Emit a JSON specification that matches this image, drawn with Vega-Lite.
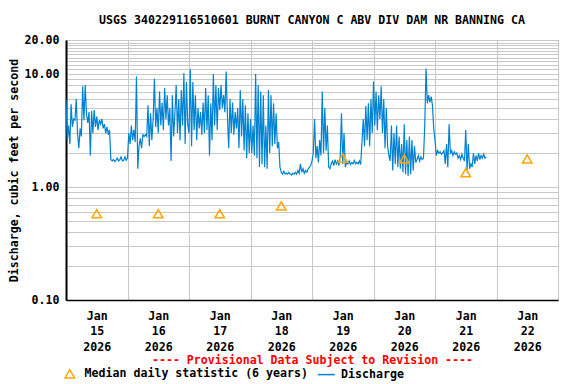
{
 "$schema": "https://vega.github.io/schema/vega-lite/v6.json",
 "width": 492, "height": 260,
 "autosize": {"type": "none"},
 "padding": {"left": 66, "top": 40, "right": 18, "bottom": 84},
 "background": "white",
 "title": {"text": "USGS 340229116510601 BURNT CANYON C ABV DIV DAM NR BANNING CA", "font": "DejaVu Sans Mono", "fontSize": 11.6, "fontWeight": "bold", "color": "black", "anchor": "middle", "offset": 7},
 "config": {"view": {"stroke": "black", "strokeWidth": 1}, "font": "DejaVu Sans Mono"},
 "datasets": {
  "median": [
   {"t": "2026-01-15T12:00", "q": 0.58}, {"t": "2026-01-16T12:00", "q": 0.58}, {"t": "2026-01-17T12:00", "q": 0.58}, {"t": "2026-01-18T12:00", "q": 0.68},
   {"t": "2026-01-19T12:00", "q": 1.8}, {"t": "2026-01-20T12:00", "q": 1.77}, {"t": "2026-01-21T12:00", "q": 1.34}, {"t": "2026-01-22T12:00", "q": 1.77}
  ],
  "discharge": [
   {"t":"2026-01-15T00:00","q":6.0},{"t":"2026-01-15T00:30","q":2.6},{"t":"2026-01-15T01:00","q":3.5},{"t":"2026-01-15T01:30","q":2.4},
   {"t":"2026-01-15T02:00","q":5.4},{"t":"2026-01-15T02:30","q":3.4},{"t":"2026-01-15T03:00","q":4.0},{"t":"2026-01-15T03:30","q":3.9},
   {"t":"2026-01-15T04:00","q":6.0},{"t":"2026-01-15T04:30","q":3.0},{"t":"2026-01-15T05:00","q":2.2},{"t":"2026-01-15T05:30","q":3.3},
   {"t":"2026-01-15T06:00","q":2.8},{"t":"2026-01-15T06:30","q":7.8},{"t":"2026-01-15T07:00","q":3.9},{"t":"2026-01-15T07:30","q":8.0},
   {"t":"2026-01-15T08:00","q":4.4},{"t":"2026-01-15T08:30","q":3.7},{"t":"2026-01-15T09:00","q":4.6},{"t":"2026-01-15T09:30","q":1.9},
   {"t":"2026-01-15T10:00","q":4.7},{"t":"2026-01-15T10:30","q":3.0},{"t":"2026-01-15T11:00","q":4.8},{"t":"2026-01-15T11:30","q":3.4},
   {"t":"2026-01-15T12:00","q":4.2},{"t":"2026-01-15T12:30","q":3.2},{"t":"2026-01-15T13:00","q":3.9},{"t":"2026-01-15T13:30","q":3.6},
   {"t":"2026-01-15T14:00","q":4.0},{"t":"2026-01-15T14:30","q":3.3},{"t":"2026-01-15T15:00","q":3.6},{"t":"2026-01-15T15:30","q":3.0},
   {"t":"2026-01-15T16:00","q":3.4},{"t":"2026-01-15T16:30","q":2.9},{"t":"2026-01-15T17:00","q":3.2},{"t":"2026-01-15T17:30","q":1.75},
   {"t":"2026-01-15T18:00","q":1.7},{"t":"2026-01-15T18:30","q":1.75},{"t":"2026-01-15T19:00","q":1.68},{"t":"2026-01-15T19:30","q":1.72},
   {"t":"2026-01-15T20:00","q":1.8},{"t":"2026-01-15T20:30","q":1.7},{"t":"2026-01-15T21:00","q":1.75},{"t":"2026-01-15T21:30","q":1.85},
   {"t":"2026-01-15T22:00","q":1.7},{"t":"2026-01-15T22:30","q":1.72},{"t":"2026-01-15T23:00","q":1.85},{"t":"2026-01-15T23:30","q":1.72},
   {"t":"2026-01-16T00:00","q":1.8},{"t":"2026-01-16T00:30","q":3.0},{"t":"2026-01-16T01:00","q":2.4},{"t":"2026-01-16T01:30","q":3.5},
   {"t":"2026-01-16T02:00","q":2.6},{"t":"2026-01-16T02:30","q":3.2},{"t":"2026-01-16T03:00","q":2.5},{"t":"2026-01-16T03:30","q":9.5},
   {"t":"2026-01-16T04:00","q":1.45},{"t":"2026-01-16T04:30","q":2.3},{"t":"2026-01-16T05:00","q":2.7},{"t":"2026-01-16T05:30","q":2.2},
   {"t":"2026-01-16T06:00","q":2.9},{"t":"2026-01-16T06:30","q":2.8},{"t":"2026-01-16T07:00","q":2.9},{"t":"2026-01-16T07:30","q":2.8},
   {"t":"2026-01-16T08:00","q":5.3},{"t":"2026-01-16T08:30","q":2.3},{"t":"2026-01-16T09:00","q":4.5},{"t":"2026-01-16T09:30","q":2.6},
   {"t":"2026-01-16T10:00","q":4.0},{"t":"2026-01-16T10:30","q":9.1},{"t":"2026-01-16T11:00","q":3.4},{"t":"2026-01-16T11:30","q":5.0},
   {"t":"2026-01-16T12:00","q":3.0},{"t":"2026-01-16T12:30","q":7.0},{"t":"2026-01-16T13:00","q":3.5},{"t":"2026-01-16T13:30","q":5.6},
   {"t":"2026-01-16T14:00","q":3.2},{"t":"2026-01-16T14:30","q":7.5},{"t":"2026-01-16T15:00","q":4.0},{"t":"2026-01-16T15:30","q":6.5},
   {"t":"2026-01-16T16:00","q":3.5},{"t":"2026-01-16T16:30","q":5.0},{"t":"2026-01-16T17:00","q":1.7},{"t":"2026-01-16T17:30","q":6.5},
   {"t":"2026-01-16T18:00","q":2.8},{"t":"2026-01-16T18:30","q":4.5},{"t":"2026-01-16T19:00","q":8.0},{"t":"2026-01-16T19:30","q":3.0},
   {"t":"2026-01-16T20:00","q":6.0},{"t":"2026-01-16T20:30","q":2.6},{"t":"2026-01-16T21:00","q":7.2},{"t":"2026-01-16T21:30","q":3.5},
   {"t":"2026-01-16T22:00","q":10.2},{"t":"2026-01-16T22:30","q":2.4},{"t":"2026-01-16T23:00","q":8.5},{"t":"2026-01-16T23:30","q":3.6},
   {"t":"2026-01-17T00:00","q":3.0},{"t":"2026-01-17T00:30","q":11.0},{"t":"2026-01-17T01:00","q":2.3},{"t":"2026-01-17T01:30","q":8.5},
   {"t":"2026-01-17T02:00","q":3.2},{"t":"2026-01-17T02:30","q":6.5},{"t":"2026-01-17T03:00","q":2.6},{"t":"2026-01-17T03:30","q":5.0},
   {"t":"2026-01-17T04:00","q":3.3},{"t":"2026-01-17T04:30","q":4.6},{"t":"2026-01-17T05:00","q":2.9},{"t":"2026-01-17T05:30","q":5.6},
   {"t":"2026-01-17T06:00","q":3.0},{"t":"2026-01-17T06:30","q":7.5},{"t":"2026-01-17T07:00","q":3.2},{"t":"2026-01-17T07:30","q":6.5},
   {"t":"2026-01-17T08:00","q":1.9},{"t":"2026-01-17T08:30","q":5.5},{"t":"2026-01-17T09:00","q":2.6},{"t":"2026-01-17T09:30","q":10.0},
   {"t":"2026-01-17T10:00","q":3.5},{"t":"2026-01-17T10:30","q":8.0},{"t":"2026-01-17T11:00","q":3.2},{"t":"2026-01-17T11:30","q":7.5},
   {"t":"2026-01-17T12:00","q":4.8},{"t":"2026-01-17T12:30","q":8.0},{"t":"2026-01-17T13:00","q":5.0},{"t":"2026-01-17T13:30","q":6.5},
   {"t":"2026-01-17T14:00","q":4.6},{"t":"2026-01-17T14:30","q":10.5},{"t":"2026-01-17T15:00","q":4.2},{"t":"2026-01-17T15:30","q":2.2},
   {"t":"2026-01-17T16:00","q":6.0},{"t":"2026-01-17T16:30","q":3.0},{"t":"2026-01-17T17:00","q":5.6},{"t":"2026-01-17T17:30","q":2.9},
   {"t":"2026-01-17T18:00","q":4.6},{"t":"2026-01-17T18:30","q":3.3},{"t":"2026-01-17T19:00","q":5.0},{"t":"2026-01-17T19:30","q":2.2},
   {"t":"2026-01-17T20:00","q":7.2},{"t":"2026-01-17T20:30","q":2.8},{"t":"2026-01-17T21:00","q":6.0},{"t":"2026-01-17T21:30","q":2.1},
   {"t":"2026-01-17T22:00","q":5.3},{"t":"2026-01-17T22:30","q":1.8},{"t":"2026-01-17T23:00","q":4.5},{"t":"2026-01-17T23:30","q":2.0},
   {"t":"2026-01-18T00:00","q":4.0},{"t":"2026-01-18T00:30","q":2.0},{"t":"2026-01-18T01:00","q":3.5},{"t":"2026-01-18T01:30","q":1.9},
   {"t":"2026-01-18T02:00","q":10.0},{"t":"2026-01-18T02:30","q":1.8},{"t":"2026-01-18T03:00","q":8.0},{"t":"2026-01-18T03:30","q":1.5},
   {"t":"2026-01-18T04:00","q":7.0},{"t":"2026-01-18T04:30","q":1.6},{"t":"2026-01-18T05:00","q":6.5},{"t":"2026-01-18T05:30","q":1.5},
   {"t":"2026-01-18T06:00","q":3.5},{"t":"2026-01-18T06:30","q":1.45},{"t":"2026-01-18T07:00","q":7.2},{"t":"2026-01-18T07:30","q":2.0},
   {"t":"2026-01-18T08:00","q":6.5},{"t":"2026-01-18T08:30","q":2.3},{"t":"2026-01-18T09:00","q":5.5},{"t":"2026-01-18T09:30","q":2.4},
   {"t":"2026-01-18T10:00","q":4.5},{"t":"2026-01-18T10:30","q":2.2},{"t":"2026-01-18T11:00","q":2.5},{"t":"2026-01-18T11:30","q":1.5},
   {"t":"2026-01-18T12:00","q":1.35},{"t":"2026-01-18T12:30","q":1.3},{"t":"2026-01-18T13:00","q":1.38},{"t":"2026-01-18T13:30","q":1.3},
   {"t":"2026-01-18T14:00","q":1.33},{"t":"2026-01-18T14:30","q":1.3},{"t":"2026-01-18T15:00","q":1.35},{"t":"2026-01-18T15:30","q":1.3},
   {"t":"2026-01-18T16:00","q":1.28},{"t":"2026-01-18T16:30","q":1.32},{"t":"2026-01-18T17:00","q":1.3},{"t":"2026-01-18T17:30","q":1.35},
   {"t":"2026-01-18T18:00","q":1.3},{"t":"2026-01-18T18:30","q":1.4},{"t":"2026-01-18T19:00","q":1.32},{"t":"2026-01-18T19:30","q":1.6},
   {"t":"2026-01-18T20:00","q":1.35},{"t":"2026-01-18T20:30","q":1.45},{"t":"2026-01-18T21:00","q":1.32},{"t":"2026-01-18T21:30","q":1.4},
   {"t":"2026-01-18T22:00","q":1.35},{"t":"2026-01-18T22:30","q":1.45},{"t":"2026-01-18T23:00","q":1.5},{"t":"2026-01-18T23:30","q":1.55},
   {"t":"2026-01-19T00:00","q":1.7},{"t":"2026-01-19T00:30","q":2.0},{"t":"2026-01-19T01:00","q":4.0},{"t":"2026-01-19T01:30","q":1.8},
   {"t":"2026-01-19T02:00","q":2.3},{"t":"2026-01-19T02:30","q":1.65},{"t":"2026-01-19T03:00","q":2.6},{"t":"2026-01-19T03:30","q":1.9},
   {"t":"2026-01-19T04:00","q":7.0},{"t":"2026-01-19T04:30","q":2.0},{"t":"2026-01-19T05:00","q":5.0},{"t":"2026-01-19T05:30","q":2.1},
   {"t":"2026-01-19T06:00","q":3.5},{"t":"2026-01-19T06:30","q":1.5},{"t":"2026-01-19T07:00","q":1.45},{"t":"2026-01-19T07:30","q":1.6},
   {"t":"2026-01-19T08:00","q":1.7},{"t":"2026-01-19T08:30","q":1.55},{"t":"2026-01-19T09:00","q":1.75},{"t":"2026-01-19T09:30","q":1.6},
   {"t":"2026-01-19T10:00","q":1.7},{"t":"2026-01-19T10:30","q":1.55},{"t":"2026-01-19T11:00","q":1.8},{"t":"2026-01-19T11:30","q":4.5},
   {"t":"2026-01-19T12:00","q":1.6},{"t":"2026-01-19T12:30","q":3.0},{"t":"2026-01-19T13:00","q":1.5},{"t":"2026-01-19T13:30","q":1.65},
   {"t":"2026-01-19T14:00","q":1.6},{"t":"2026-01-19T14:30","q":1.7},{"t":"2026-01-19T15:00","q":1.58},{"t":"2026-01-19T15:30","q":1.65},
   {"t":"2026-01-19T16:00","q":1.6},{"t":"2026-01-19T16:30","q":1.72},{"t":"2026-01-19T17:00","q":1.6},{"t":"2026-01-19T17:30","q":1.65},
   {"t":"2026-01-19T18:00","q":1.6},{"t":"2026-01-19T18:30","q":1.7},{"t":"2026-01-19T19:00","q":1.58},{"t":"2026-01-19T19:30","q":2.5},
   {"t":"2026-01-19T20:00","q":4.0},{"t":"2026-01-19T20:30","q":2.3},{"t":"2026-01-19T21:00","q":5.2},{"t":"2026-01-19T21:30","q":2.6},
   {"t":"2026-01-19T22:00","q":5.5},{"t":"2026-01-19T22:30","q":2.3},{"t":"2026-01-19T23:00","q":6.0},{"t":"2026-01-19T23:30","q":3.0},
   {"t":"2026-01-20T00:00","q":8.6},{"t":"2026-01-20T00:30","q":3.5},{"t":"2026-01-20T01:00","q":7.0},{"t":"2026-01-20T01:30","q":3.2},
   {"t":"2026-01-20T02:00","q":6.5},{"t":"2026-01-20T02:30","q":4.0},{"t":"2026-01-20T03:00","q":7.8},{"t":"2026-01-20T03:30","q":3.0},
   {"t":"2026-01-20T04:00","q":6.0},{"t":"2026-01-20T04:30","q":2.2},{"t":"2026-01-20T05:00","q":5.0},{"t":"2026-01-20T05:30","q":2.3},
   {"t":"2026-01-20T06:00","q":1.9},{"t":"2026-01-20T06:30","q":1.7},{"t":"2026-01-20T07:00","q":3.5},{"t":"2026-01-20T07:30","q":1.4},
   {"t":"2026-01-20T08:00","q":3.0},{"t":"2026-01-20T08:30","q":1.6},{"t":"2026-01-20T09:00","q":3.5},{"t":"2026-01-20T09:30","q":1.5},
   {"t":"2026-01-20T10:00","q":2.8},{"t":"2026-01-20T10:30","q":1.45},{"t":"2026-01-20T11:00","q":2.4},{"t":"2026-01-20T11:30","q":1.35},
   {"t":"2026-01-20T12:00","q":3.6},{"t":"2026-01-20T12:30","q":1.3},{"t":"2026-01-20T13:00","q":2.6},{"t":"2026-01-20T13:30","q":1.25},
   {"t":"2026-01-20T14:00","q":2.8},{"t":"2026-01-20T14:30","q":1.3},{"t":"2026-01-20T15:00","q":2.6},{"t":"2026-01-20T15:30","q":1.4},
   {"t":"2026-01-20T16:00","q":2.3},{"t":"2026-01-20T16:30","q":1.65},{"t":"2026-01-20T17:00","q":1.75},{"t":"2026-01-20T17:30","q":1.9},
   {"t":"2026-01-20T18:00","q":1.7},{"t":"2026-01-20T18:30","q":1.85},{"t":"2026-01-20T19:00","q":1.75},{"t":"2026-01-20T19:30","q":1.8},
   {"t":"2026-01-20T20:00","q":3.5},{"t":"2026-01-20T20:30","q":11.2},{"t":"2026-01-20T21:00","q":5.5},{"t":"2026-01-20T21:30","q":6.5},
   {"t":"2026-01-20T22:00","q":5.6},{"t":"2026-01-20T22:30","q":6.3},{"t":"2026-01-20T23:00","q":5.3},{"t":"2026-01-20T23:30","q":3.3},
   {"t":"2026-01-21T00:00","q":2.6},{"t":"2026-01-21T00:30","q":1.9},{"t":"2026-01-21T01:00","q":2.1},{"t":"2026-01-21T01:30","q":2.0},
   {"t":"2026-01-21T02:00","q":2.05},{"t":"2026-01-21T02:30","q":1.95},{"t":"2026-01-21T03:00","q":2.0},{"t":"2026-01-21T03:30","q":2.1},
   {"t":"2026-01-21T04:00","q":1.6},{"t":"2026-01-21T04:30","q":2.4},{"t":"2026-01-21T05:00","q":1.5},{"t":"2026-01-21T05:30","q":3.6},
   {"t":"2026-01-21T06:00","q":2.0},{"t":"2026-01-21T06:30","q":2.1},{"t":"2026-01-21T07:00","q":1.9},{"t":"2026-01-21T07:30","q":2.05},
   {"t":"2026-01-21T08:00","q":1.95},{"t":"2026-01-21T08:30","q":2.0},{"t":"2026-01-21T09:00","q":1.8},{"t":"2026-01-21T09:30","q":1.9},
   {"t":"2026-01-21T10:00","q":1.75},{"t":"2026-01-21T10:30","q":1.95},{"t":"2026-01-21T11:00","q":1.8},{"t":"2026-01-21T11:30","q":1.7},
   {"t":"2026-01-21T12:00","q":3.2},{"t":"2026-01-21T12:30","q":1.4},{"t":"2026-01-21T13:00","q":2.4},{"t":"2026-01-21T13:30","q":1.45},
   {"t":"2026-01-21T14:00","q":1.6},{"t":"2026-01-21T14:30","q":1.5},{"t":"2026-01-21T15:00","q":2.0},{"t":"2026-01-21T15:30","q":1.6},
   {"t":"2026-01-21T16:00","q":1.9},{"t":"2026-01-21T16:30","q":1.7},{"t":"2026-01-21T17:00","q":2.0},{"t":"2026-01-21T17:30","q":1.75},
   {"t":"2026-01-21T18:00","q":1.9},{"t":"2026-01-21T18:30","q":1.8},{"t":"2026-01-21T19:00","q":1.95},{"t":"2026-01-21T19:30","q":1.8},
   {"t":"2026-01-21T20:00","q":1.85}
  ]
 },
 "encoding": {
  "x": {"field": "t", "type": "temporal",
   "scale": {"domain": [{"year": 2026, "month": 1, "date": 15}, {"year": 2026, "month": 1, "date": 23}]},
   "axis": {
    "title": "---- Provisional Data Subject to Revision ----", "titleColor": "red", "titleFont": "DejaVu Sans Mono", "titleFontSize": 11.6, "titleFontWeight": "bold", "titlePadding": 1.5,
    "values": [
     {"year": 2026, "month": 1, "date": 15}, {"year": 2026, "month": 1, "date": 15, "hours": 12},
     {"year": 2026, "month": 1, "date": 16}, {"year": 2026, "month": 1, "date": 16, "hours": 12},
     {"year": 2026, "month": 1, "date": 17}, {"year": 2026, "month": 1, "date": 17, "hours": 12},
     {"year": 2026, "month": 1, "date": 18}, {"year": 2026, "month": 1, "date": 18, "hours": 12},
     {"year": 2026, "month": 1, "date": 19}, {"year": 2026, "month": 1, "date": 19, "hours": 12},
     {"year": 2026, "month": 1, "date": 20}, {"year": 2026, "month": 1, "date": 20, "hours": 12},
     {"year": 2026, "month": 1, "date": 21}, {"year": 2026, "month": 1, "date": 21, "hours": 12},
     {"year": 2026, "month": 1, "date": 22}, {"year": 2026, "month": 1, "date": 22, "hours": 12},
     {"year": 2026, "month": 1, "date": 23}
    ],
    "labelExpr": "hours(datum.value) == 12 ? [timeFormat(datum.value, '%b'), timeFormat(datum.value, '%d'), timeFormat(datum.value, '%Y')] : ''",
    "labelFont": "DejaVu Sans Mono", "labelFontSize": 11.6, "labelFontWeight": "bold", "labelColor": "black",
    "labelLineHeight": 15.5, "labelPadding": 10, "labelAngle": 0, "labelFlush": false, "labelOverlap": false, "labelBound": false,
    "ticks": false, "grid": true, "gridColor": "#c8c8c8", "gridWidth": 1,
    "gridOpacity": {"condition": {"test": "hours(datum.value) == 12", "value": 0}, "value": 1},
    "domainColor": "black", "domainWidth": 1.5
   }
  },
  "y": {"field": "q", "type": "quantitative",
   "scale": {"type": "log", "domain": [0.1, 20], "nice": false},
   "axis": {
    "title": "Discharge, cubic feet per second", "titleFont": "DejaVu Sans Mono", "titleFontSize": 11.6, "titleFontWeight": "bold", "titleColor": "black", "titlePadding": 5,
    "values": [0.1, 0.2, 0.3, 0.4, 0.5, 0.6, 0.7, 0.8, 0.9, 1, 2, 3, 4, 5, 6, 7, 8, 9, 10, 11, 12, 13, 14, 15, 16, 17, 18, 19, 20],
    "labelExpr": "indexof([0.1, 1, 10, 20], datum.value) >= 0 ? format(datum.value, '.2f') : ''",
    "labelFont": "DejaVu Sans Mono", "labelFontSize": 11.6, "labelFontWeight": "bold", "labelColor": "black",
    "labelPadding": 7, "labelOverlap": false, "labelBound": false,
    "ticks": false, "grid": true, "gridColor": "#c8c8c8", "gridWidth": 1,
    "domainColor": "black", "domainWidth": 2
   }
  }
 },
 "layer": [
  {"data": {"name": "discharge"},
   "mark": {"type": "line", "strokeWidth": 1.2},
   "encoding": {"color": {"datum": "Discharge",
    "scale": {"domain": ["Median daily statistic (6 years)", "Discharge"], "range": ["#ffa500", "#0082d2"]},
    "legend": {"title": null, "orient": "none", "legendX": -2, "legendY": 328, "direction": "horizontal",
     "labelFont": "DejaVu Sans Mono", "labelFontSize": 11.6, "labelFontWeight": "bold", "labelColor": "black",
     "padding": 0, "columnPadding": 6.5, "labelOffset": 9, "labelLimit": 400, "symbolStrokeWidth": 1.5, "symbolSize": 100,
     "encode": {"symbols": {"update": {
      "shape": {"signal": "datum.value === 'Discharge' ? 'stroke' : 'triangle-up'"},
      "size": {"signal": "datum.value === 'Discharge' ? 289 : 90"},
      "fill": {"value": "transparent"},
      "strokeWidth": {"value": 1.5}
     }}}
    }}}
  },
  {"data": {"name": "median"},
   "mark": {"type": "point", "shape": "triangle-up", "filled": false, "size": 90, "strokeWidth": 1.5, "opacity": 1},
   "encoding": {"color": {"datum": "Median daily statistic (6 years)"}}
  }
 ]
}
